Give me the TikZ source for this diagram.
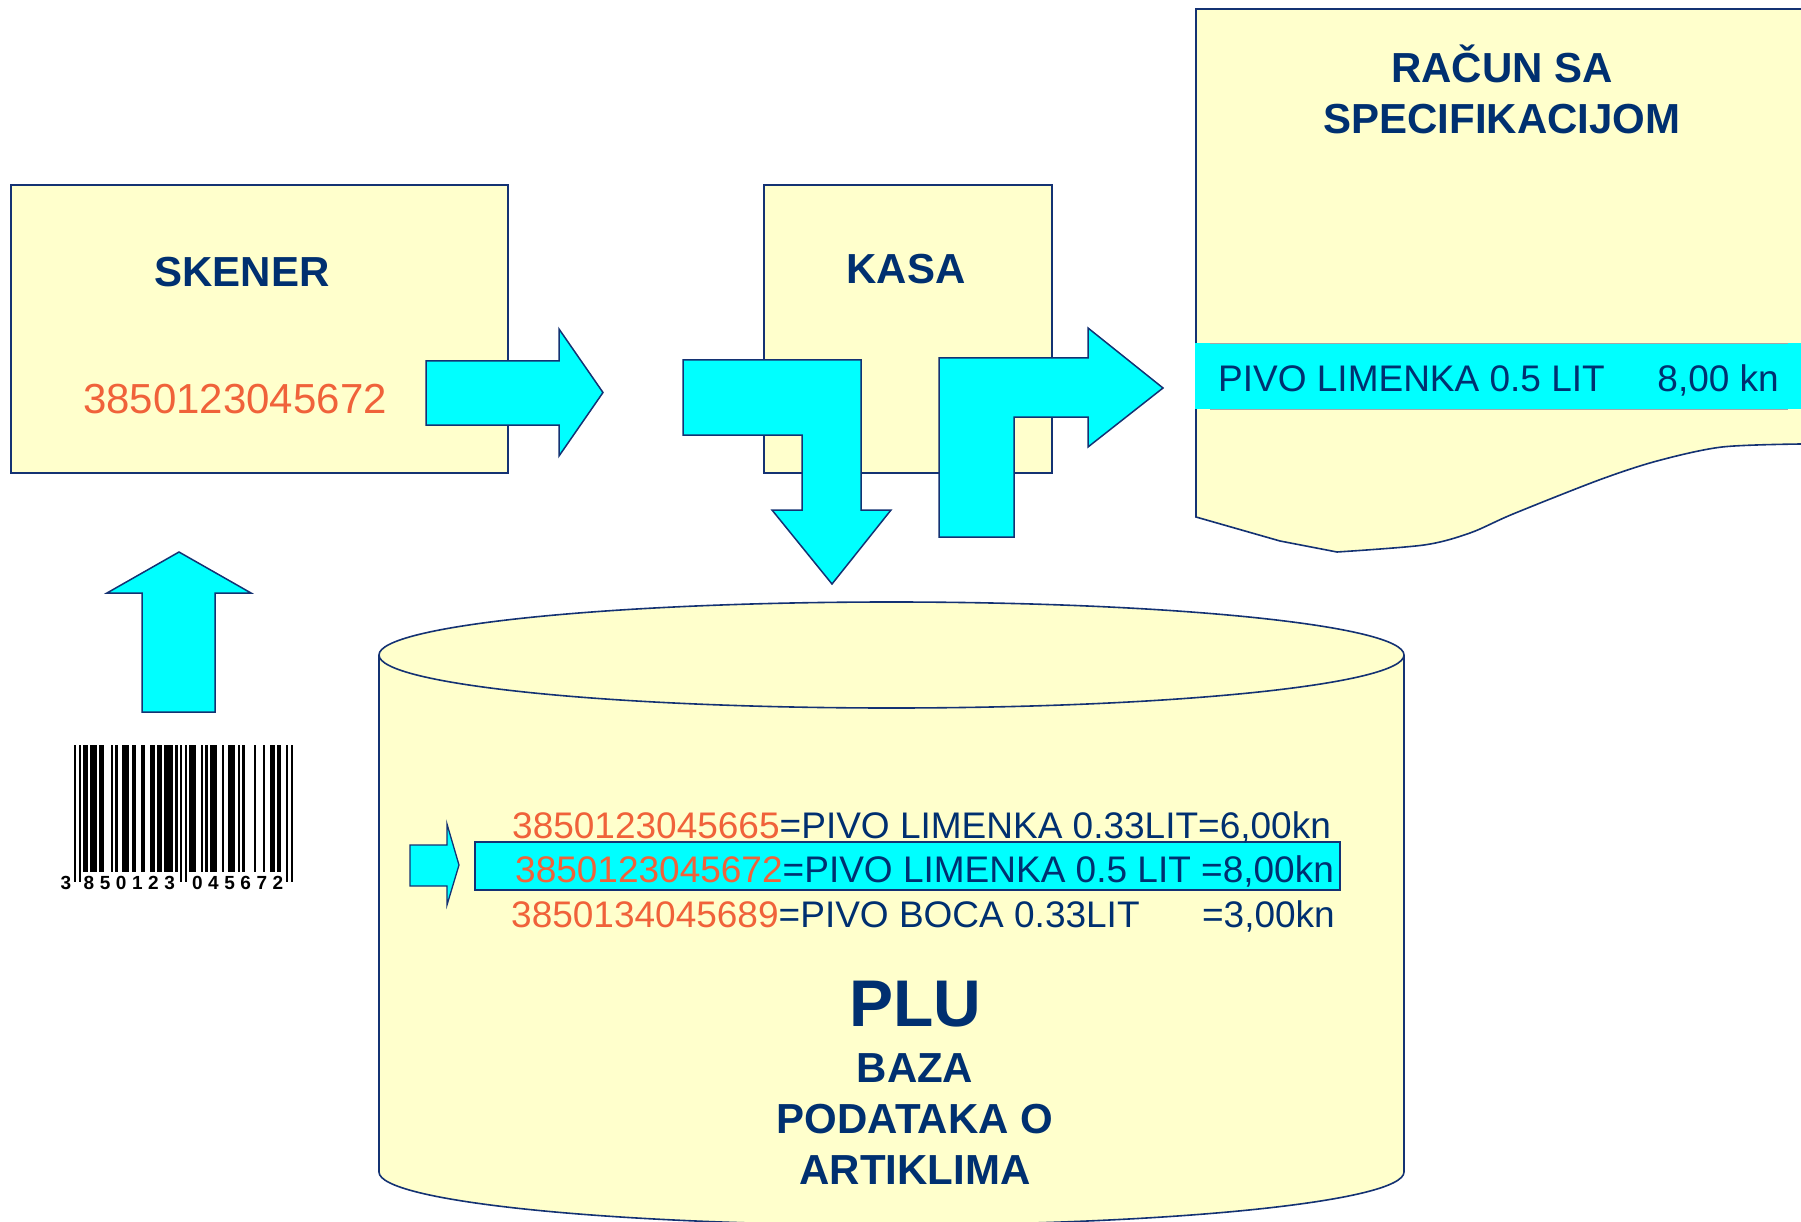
\documentclass[tikz,border=0pt]{standalone}
\usepackage{fontspec}
\setmainfont{Liberation Sans}
\definecolor{navy}{RGB}{0,48,112}
\definecolor{edge}{RGB}{20,50,115}
\definecolor{orng}{RGB}{240,98,58}
\definecolor{paleyellow}{RGB}{255,255,204}
\definecolor{cyanfill}{RGB}{0,255,255}
\tikzset{
  box/.style={draw=edge, line width=1.6pt, fill=paleyellow, inner sep=0pt},
  blockarrow/.style={draw=edge, line width=1.5pt, fill=cyanfill, line join=miter},
  title/.style={text=navy, font=\fontsize{42}{50}\selectfont\bfseries, inner sep=0pt},
  bigtitle/.style={text=navy, font=\fontsize{66}{70}\selectfont\bfseries, inner sep=0pt},
  code/.style={text=orng, font=\fontsize{42}{50}\selectfont, inner sep=0pt},
  entry/.style={font=\fontsize{37}{44}\selectfont, inner sep=0pt},
  bcdigit/.style={font=\fontsize{19}{22}\selectfont\bfseries, inner sep=0pt, anchor=base},
}
\newcommand{\nv}[1]{\textcolor{navy}{#1}}
\newcommand{\og}[1]{\textcolor{orng}{#1}}
\begin{document}
\begin{tikzpicture}[x=1pt,y=-1pt]
\useasboundingbox (0,0) rectangle (1801,1222);

% receipt
\fill[paleyellow] (1196,9) -- (1806,9) -- (1806,443)
  --plot[smooth, tension=0.5] coordinates {(1801,444) (1722,447) (1657,461) (1599,480) (1513,514) (1470,533) (1424,545) (1337,552)}
  -- (1280,541) -- (1196,517) -- cycle;
\draw[edge, line width=1.6pt] (1806,9) -- (1196,9) -- (1196,517) -- (1280,541)
  --plot[smooth, tension=0.5] coordinates {(1337,552) (1424,545) (1470,533) (1513,514) (1599,480) (1657,461) (1722,447) (1801,444)} -- (1806,443);
\node[title, anchor=base] (racun1) at (1502,83) {RAČUN SA};
\node[title, anchor=base] (racun2) at (1502,134) {SPECIFIKACIJOM};
\fill[cyanfill] (1195,343) rectangle (1806,409);
\draw[gray!70, line width=0.6pt] (1210,343) -- (1788,343) (1210,409) -- (1788,409);
\node[entry, text=navy, anchor=base west] (ritem) at (1218,391) {PIVO LIMENKA 0.5 LIT};
\node[entry, text=navy, anchor=base east] (rprice) at (1779,391) {8,00 kn};

% scanner box
\node[box, minimum width=497pt, minimum height=288pt, anchor=north west] (skener) at (10,184) {};
\node[title, anchor=base] (skenerlbl) at (242,287) {SKENER};
\node[code, anchor=base] (skenercode) at (235,413) {3850123045672};

% cash register box
\node[box, minimum width=288pt, minimum height=288pt, anchor=north west] (kasa) at (763,184) {};
\node[title, anchor=base] (kasalbl) at (906,284) {KASA};

% database cylinder
\draw[edge, line width=1.6pt, fill=paleyellow]
  (379,655) -- (379,1172)
  .. controls (379,1201.3) and (608.5,1225) .. (891.5,1225)
  .. controls (1174.5,1225) and (1404,1201.3) .. (1404,1172)
  -- (1404,655)
  .. controls (1404,625.7) and (1174.5,602) .. (891.5,602)
  .. controls (608.5,602) and (379,625.7) .. (379,655) -- cycle;
\draw[edge, line width=1.6pt]
  (379,655) .. controls (379,684.3) and (608.5,708) .. (891.5,708)
  .. controls (1174.5,708) and (1404,684.3) .. (1404,655);
\coordinate (plu) at (891.5,900);

\node[box, fill=cyanfill, minimum width=865pt, minimum height=48pt, anchor=north west] (hl) at (474,841) {};
\node[entry, anchor=base west] (row1) at (512,838) {\og{3850123045665}\nv{=PIVO LIMENKA 0.33LIT=6,00kn}};
\node[entry, anchor=base west] (row2) at (515,882) {\og{3850123045672}\nv{=PIVO LIMENKA 0.5 LIT =8,00kn}};
\node[entry, anchor=base west] (row3) at (511,927) {\og{3850134045689}\nv{=PIVO BOCA 0.33LIT}};
\node[entry, text=navy, anchor=base east] (row3p) at (1335,927) {=3,00kn};

\node[bigtitle, anchor=base] (plulbl) at (915,1026) {PLU};
\node[title, anchor=base] (db1) at (915,1082) {BAZA};
\node[title, anchor=base] (db2) at (915,1133) {PODATAKA O};
\node[title, anchor=base] (db3) at (915,1184) {ARTIKLIMA};

% block arrows
\draw[blockarrow] (426,361) -- (559,361) -- (559,329) -- (603,392.5) -- (559,456) -- (559,425) -- (426,425) -- cycle;
\draw[blockarrow] (142,712) -- (142,593) -- (107,593) -- (179,552) -- (251,593) -- (215,593) -- (215,712) -- cycle;
\draw[blockarrow] (683,360) -- (861,360) -- (861,510) -- (891,510) -- (832,584) -- (772,510) -- (802,510) -- (802,435) -- (683,435) -- cycle;
\draw[blockarrow] (939,537) -- (939,358) -- (1088,358) -- (1088,328) -- (1163,388) -- (1088,447) -- (1088,417) -- (1014,417) -- (1014,537) -- cycle;
\draw[blockarrow, line width=1.3pt] (410,845) -- (447,845) -- (447,824) -- (459,865) -- (447,905) -- (447,886) -- (410,886) -- cycle;

% barcode EAN-13 3850123045672
\foreach \s/\w in {4/2,7/3,11/2,16/1,18/1,21/3,25/2,29/2,33/2,36/2,39/4,44/1,50/3,55/1,57/1,59/3,64/1,67/3,71/1,73/1,78/1,82/1,85/2,88/2}
  \fill[black] ({74+\s*2.305},745) rectangle ++({\w*2.305},127);
\foreach \s in {0,2,46,48,92,94}
  \fill[black] ({74+\s*2.305},745) rectangle ++(2.305,137);
\node[bcdigit] (bc0) at (66,889) {3};
\foreach \d [count=\i from 0] in {8,5,0,1,2,3}
  \node[bcdigit] at ({74+(6.5+7*\i)*2.305},889) {\d};
\foreach \d [count=\i from 0] in {0,4,5,6,7,2}
  \node[bcdigit] at ({74+(53.5+7*\i)*2.305},889) {\d};
\end{tikzpicture}
\end{document}
